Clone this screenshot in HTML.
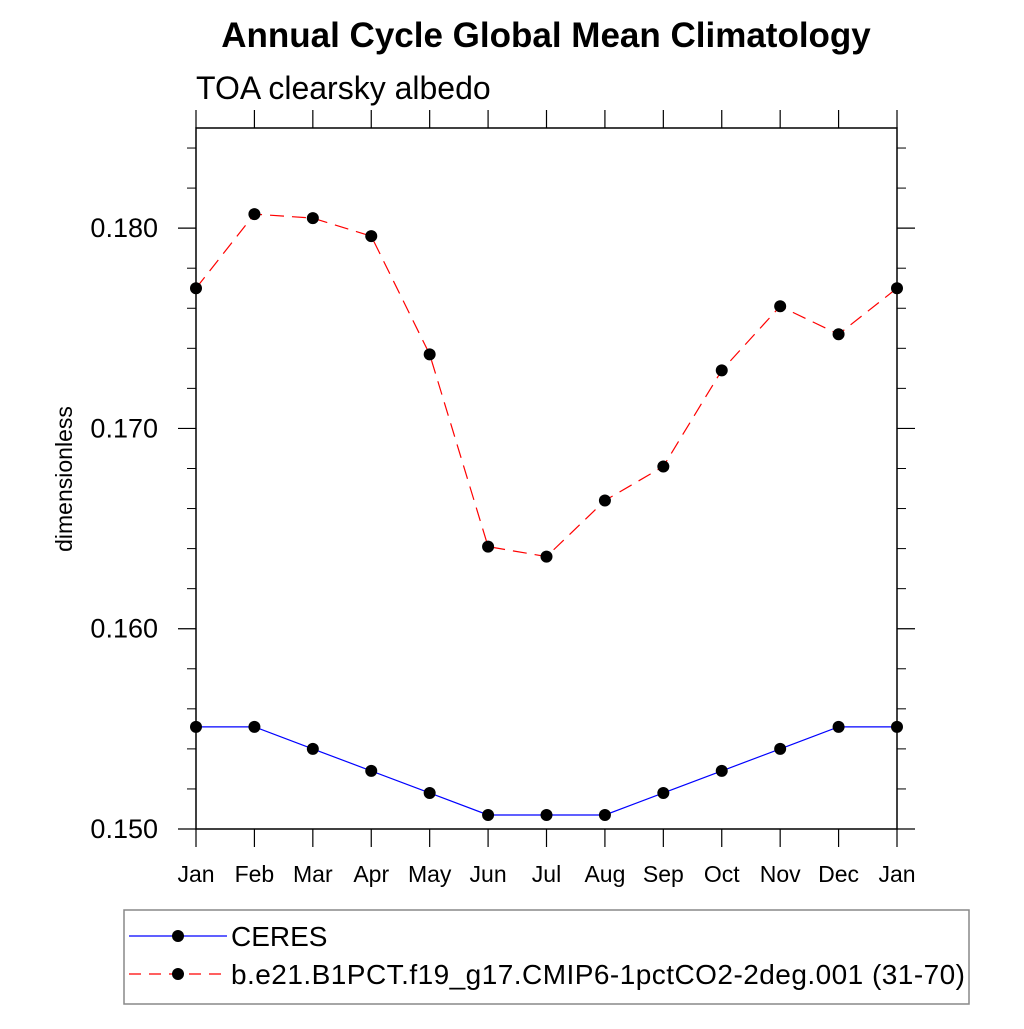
<!DOCTYPE html>
<html><head><meta charset="utf-8"><style>
body{margin:0;background:#fff}
svg text{font-family:"Liberation Sans",sans-serif;fill:#000}
</style></head><body>
<svg id="chart" width="1024" height="1024" viewBox="0 0 1024 1024" xmlns="http://www.w3.org/2000/svg">
<text x="546" y="47" font-size="35" font-weight="bold" text-anchor="middle">Annual Cycle Global Mean Climatology</text>
<text x="196" y="99" font-size="32">TOA clearsky albedo</text>
<text transform="translate(72,479) rotate(-90)" font-size="23" text-anchor="middle">dimensionless</text>
<g id="axes"></g>
<g id="series"></g>
<g>
<rect x="124" y="910" width="845" height="94" fill="none" stroke="#888" stroke-width="1.5"/>
<line x1="129" y1="936" x2="227" y2="936" stroke="#00f" stroke-width="1.2"/>
<circle cx="178" cy="936" r="6" fill="#000"/>
<text x="231" y="946" font-size="28">CERES</text>
<line x1="129" y1="974" x2="227" y2="974" stroke="#f00" stroke-width="1.2" stroke-dasharray="12,8"/>
<circle cx="178" cy="974" r="6" fill="#000"/>
<text x="231" y="984" font-size="28" textLength="734">b.e21.B1PCT.f19_g17.CMIP6-1pctCO2-2deg.001 (31-70)</text>
</g>
</svg>
<script>
const months=["Jan","Feb","Mar","Apr","May","Jun","Jul","Aug","Sep","Oct","Nov","Dec","Jan"];
const ceres=[0.1551,0.1551,0.1540,0.1529,0.1518,0.1507,0.1507,0.1507,0.1518,0.1529,0.1540,0.1551,0.1551];
const model=[0.1770,0.1807,0.1805,0.1796,0.1737,0.1641,0.1636,0.1664,0.1681,0.1729,0.1761,0.1747,0.1770];
const yTicks=[0.150,0.160,0.170,0.180];
const yTickLabels=["0.150","0.160","0.170","0.180"];
const X0=196,X1=897,Y0=829,Y1=128,ymin=0.150,ymax=0.185;
const xs=i=>X0+(X1-X0)*i/(months.length-1);
const ys=v=>Y0-(v-ymin)/(ymax-ymin)*(Y0-Y1);
const NS="http://www.w3.org/2000/svg";
function mk(tag,attrs,parent){const e=document.createElementNS(NS,tag);for(const k in attrs)e.setAttribute(k,attrs[k]);parent.appendChild(e);return e;}
const ax=document.getElementById('axes');
const frame=mk('rect',{x:X0,y:Y1,width:X1-X0,height:Y0-Y1,fill:'none',stroke:'#000','stroke-width':1.5},ax);


months.forEach((m,i)=>{
 const x=xs(i);
 mk('line',{x1:x,y1:Y1,x2:x,y2:Y1-18,stroke:'#000','stroke-width':1.2},ax);
 mk('line',{x1:x,y1:Y0,x2:x,y2:Y0+18,stroke:'#000','stroke-width':1.2},ax);
 const t=mk('text',{x:x,y:882,'font-size':23,'text-anchor':'middle'},ax);
 t.textContent=m;
 
 
});
for(let v=0.152;v<0.1849;v+=0.002){
 if(Math.abs(Math.round(v*100)-v*100)<1e-6)continue;
 const y=ys(v);
 mk('line',{x1:X0,y1:y,x2:X0-9,y2:y,stroke:'#000','stroke-width':1},ax);
 mk('line',{x1:X1,y1:y,x2:X1+9,y2:y,stroke:'#000','stroke-width':1},ax);
}
yTicks.forEach((v,i)=>{
 const y=ys(v);
 mk('line',{x1:X0,y1:y,x2:X0-18,y2:y,stroke:'#000','stroke-width':1.2},ax);
 mk('line',{x1:X1,y1:y,x2:X1+18,y2:y,stroke:'#000','stroke-width':1.2},ax);
 const t=mk('text',{x:158,y:y+9,'font-size':27,'text-anchor':'end'},ax);
 t.textContent=yTickLabels[i];
 
 
});
const sg=document.getElementById('series');
function series(data,color,dash,name){
 const pl=mk('polyline',{points:data.map((v,i)=>xs(i)+','+ys(v)).join(' '),fill:'none',stroke:color,'stroke-width':1.2},sg);
 if(dash)pl.setAttribute('stroke-dasharray',dash);
 
 
 data.forEach((v,i)=>{
  const c=mk('circle',{cx:xs(i),cy:ys(v),r:6,fill:'#000'},sg);
  
  
 });
}
series(ceres,'#00f',null,'ceres');
series(model,'#f00','14,8','model');
</script>
</body></html>
